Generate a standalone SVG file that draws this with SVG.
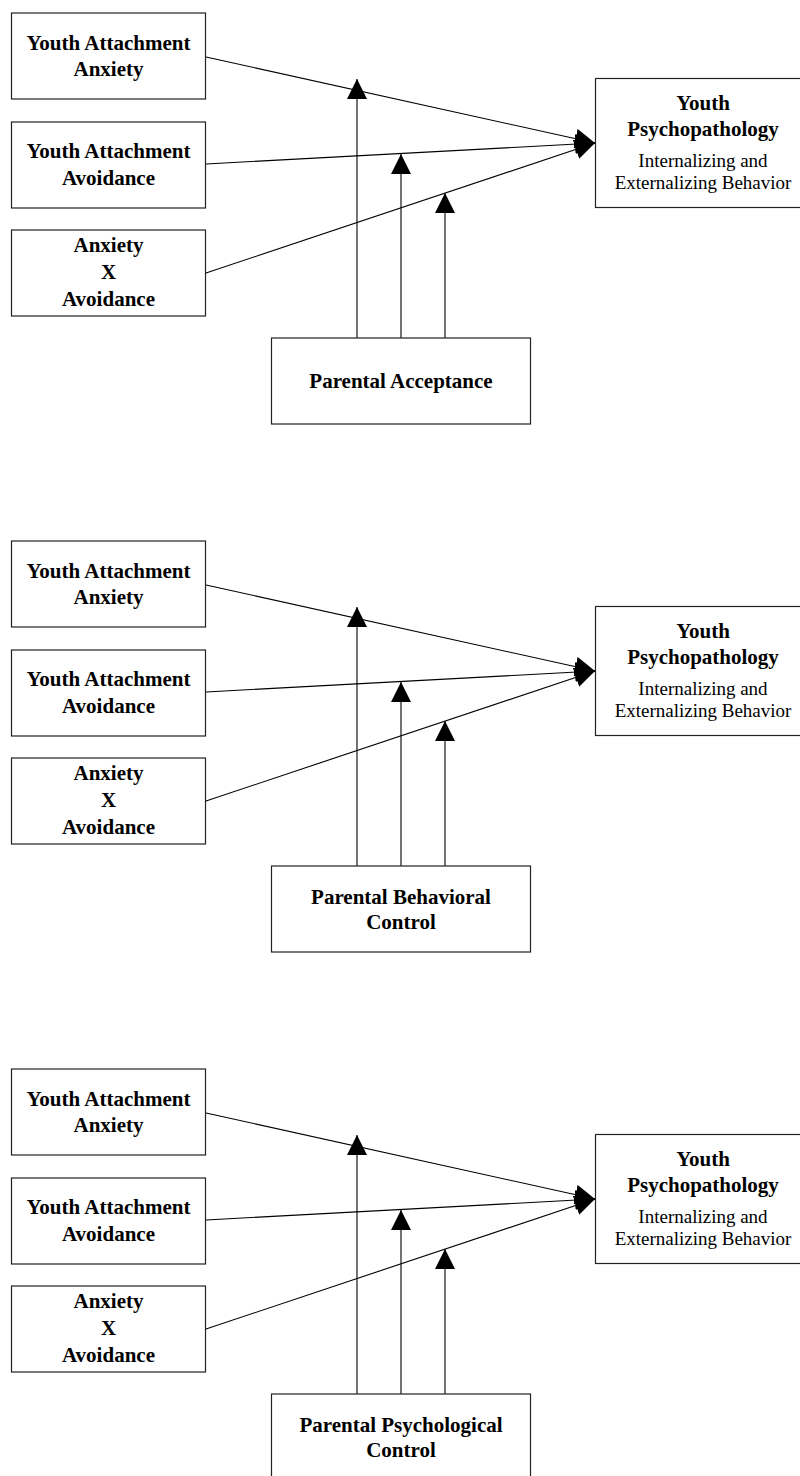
<svg xmlns="http://www.w3.org/2000/svg" width="800" height="1476" viewBox="0 0 800 1476">
  <style>
    .box { fill: #fff; stroke: #222; stroke-width: 1.2; }
    .edge { fill: none; stroke: #000; stroke-width: 1.1; }
    .b { font-family: "Liberation Serif", "Times New Roman", serif; font-weight: bold; font-size: 21px; fill: #000; text-anchor: middle; }
    .r { font-family: "Liberation Serif", "Times New Roman", serif; font-size: 19px; fill: #000; text-anchor: middle; }
  </style>
  <defs>
    <marker id="head" markerUnits="userSpaceOnUse" markerWidth="20" markerHeight="20" refX="20" refY="10" orient="auto">
      <path d="M0,0 L20,10 L0,20 Z" fill="#000"/>
    </marker>
  </defs>
  <rect width="800" height="1476" fill="#fff"/>

  <!-- Model 1: Parental Acceptance -->
  <g id="model1">
    <g id="m1-connectors">
      <line class="edge" x1="206" y1="57" x2="595" y2="143" marker-end="url(#head)"/>
      <line class="edge" x1="206" y1="164" x2="595" y2="143" marker-end="url(#head)"/>
      <line class="edge" x1="206" y1="273" x2="595" y2="143" marker-end="url(#head)"/>
      <line class="edge" x1="357" y1="338" x2="357" y2="79" marker-end="url(#head)"/>
      <line class="edge" x1="401" y1="338" x2="401" y2="154" marker-end="url(#head)"/>
      <line class="edge" x1="445" y1="338" x2="445" y2="193" marker-end="url(#head)"/>
    </g>
    <g id="m1-anxiety">
      <rect class="box" x="11.5" y="13" width="194" height="86"/>
      <text class="b" x="108.5" y="50">Youth Attachment</text>
      <text class="b" x="108.5" y="76">Anxiety</text>
    </g>
    <g id="m1-avoidance">
      <rect class="box" x="11.5" y="122" width="194" height="86"/>
      <text class="b" x="108.5" y="158">Youth Attachment</text>
      <text class="b" x="108.5" y="185">Avoidance</text>
    </g>
    <g id="m1-interaction">
      <rect class="box" x="11.5" y="230" width="194" height="86"/>
      <text class="b" x="108.5" y="252">Anxiety</text>
      <text class="b" x="108.5" y="279">X</text>
      <text class="b" x="108.5" y="306">Avoidance</text>
    </g>
    <g id="m1-outcome">
      <rect class="box" x="595.5" y="78.5" width="220" height="129"/>
      <text class="b" x="703" y="110">Youth</text>
      <text class="b" x="703" y="136">Psychopathology</text>
      <text class="r" x="703" y="167">Internalizing and</text>
      <text class="r" x="703" y="189">Externalizing Behavior</text>
    </g>
    <g id="m1-moderator">
      <rect class="box" x="271.5" y="338" width="259" height="86"/>
      <text class="b" x="401" y="388">Parental Acceptance</text>
    </g>
  </g>

  <!-- Model 2: Parental Behavioral Control -->
  <g id="model2" transform="translate(0,528)">
    <g id="m2-connectors">
      <line class="edge" x1="206" y1="57" x2="595" y2="143" marker-end="url(#head)"/>
      <line class="edge" x1="206" y1="164" x2="595" y2="143" marker-end="url(#head)"/>
      <line class="edge" x1="206" y1="273" x2="595" y2="143" marker-end="url(#head)"/>
      <line class="edge" x1="357" y1="338" x2="357" y2="79" marker-end="url(#head)"/>
      <line class="edge" x1="401" y1="338" x2="401" y2="154" marker-end="url(#head)"/>
      <line class="edge" x1="445" y1="338" x2="445" y2="193" marker-end="url(#head)"/>
    </g>
    <g id="m2-anxiety">
      <rect class="box" x="11.5" y="13" width="194" height="86"/>
      <text class="b" x="108.5" y="50">Youth Attachment</text>
      <text class="b" x="108.5" y="76">Anxiety</text>
    </g>
    <g id="m2-avoidance">
      <rect class="box" x="11.5" y="122" width="194" height="86"/>
      <text class="b" x="108.5" y="158">Youth Attachment</text>
      <text class="b" x="108.5" y="185">Avoidance</text>
    </g>
    <g id="m2-interaction">
      <rect class="box" x="11.5" y="230" width="194" height="86"/>
      <text class="b" x="108.5" y="252">Anxiety</text>
      <text class="b" x="108.5" y="279">X</text>
      <text class="b" x="108.5" y="306">Avoidance</text>
    </g>
    <g id="m2-outcome">
      <rect class="box" x="595.5" y="78.5" width="220" height="129"/>
      <text class="b" x="703" y="110">Youth</text>
      <text class="b" x="703" y="136">Psychopathology</text>
      <text class="r" x="703" y="167">Internalizing and</text>
      <text class="r" x="703" y="189">Externalizing Behavior</text>
    </g>
    <g id="m2-moderator">
      <rect class="box" x="271.5" y="338" width="259" height="86"/>
      <text class="b" x="401" y="376">Parental Behavioral</text>
      <text class="b" x="401" y="401">Control</text>
    </g>
  </g>

  <!-- Model 3: Parental Psychological Control -->
  <g id="model3" transform="translate(0,1056)">
    <g id="m3-connectors">
      <line class="edge" x1="206" y1="57" x2="595" y2="143" marker-end="url(#head)"/>
      <line class="edge" x1="206" y1="164" x2="595" y2="143" marker-end="url(#head)"/>
      <line class="edge" x1="206" y1="273" x2="595" y2="143" marker-end="url(#head)"/>
      <line class="edge" x1="357" y1="338" x2="357" y2="79" marker-end="url(#head)"/>
      <line class="edge" x1="401" y1="338" x2="401" y2="154" marker-end="url(#head)"/>
      <line class="edge" x1="445" y1="338" x2="445" y2="193" marker-end="url(#head)"/>
    </g>
    <g id="m3-anxiety">
      <rect class="box" x="11.5" y="13" width="194" height="86"/>
      <text class="b" x="108.5" y="50">Youth Attachment</text>
      <text class="b" x="108.5" y="76">Anxiety</text>
    </g>
    <g id="m3-avoidance">
      <rect class="box" x="11.5" y="122" width="194" height="86"/>
      <text class="b" x="108.5" y="158">Youth Attachment</text>
      <text class="b" x="108.5" y="185">Avoidance</text>
    </g>
    <g id="m3-interaction">
      <rect class="box" x="11.5" y="230" width="194" height="86"/>
      <text class="b" x="108.5" y="252">Anxiety</text>
      <text class="b" x="108.5" y="279">X</text>
      <text class="b" x="108.5" y="306">Avoidance</text>
    </g>
    <g id="m3-outcome">
      <rect class="box" x="595.5" y="78.5" width="220" height="129"/>
      <text class="b" x="703" y="110">Youth</text>
      <text class="b" x="703" y="136">Psychopathology</text>
      <text class="r" x="703" y="167">Internalizing and</text>
      <text class="r" x="703" y="189">Externalizing Behavior</text>
    </g>
    <g id="m3-moderator">
      <rect class="box" x="271.5" y="338" width="259" height="86"/>
      <text class="b" x="401" y="376">Parental Psychological</text>
      <text class="b" x="401" y="401">Control</text>
    </g>
  </g>
</svg>
